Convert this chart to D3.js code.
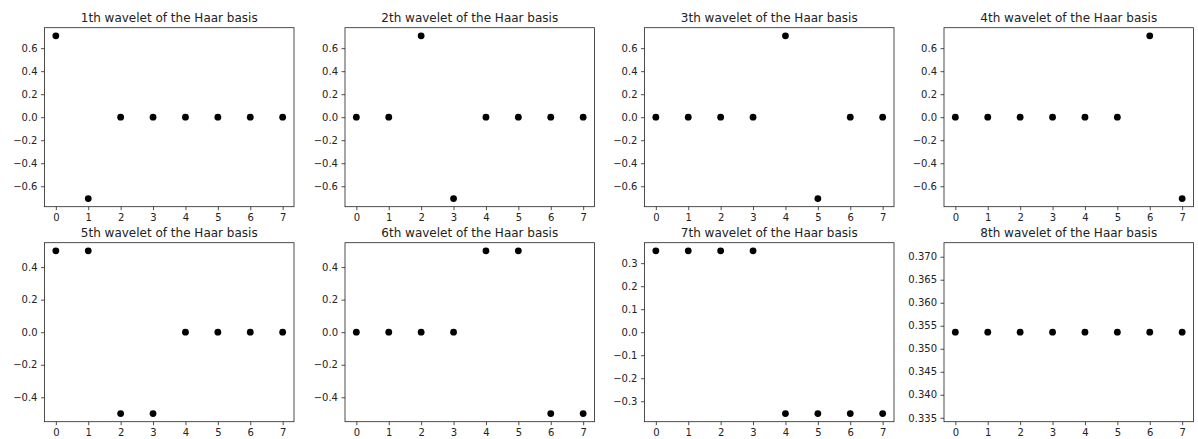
<!DOCTYPE html>
<html>
<head>
<meta charset="utf-8">
<script src="https://cdn.jsdelivr.net/npm/d3@7"></script>
<style>
  html, body { margin: 0; padding: 0; background: #fff; }
  svg { display: block; }
  text { font-family: "DejaVu Sans", sans-serif; fill: #222; }
</style>
</head>
<body>
<svg id="chart" width="1198" height="439"></svg>
<script>
// ---- data ----
const indices = [0, 1, 2, 3, 4, 5, 6, 7];
const titles = [
  "1th wavelet of the Haar basis", "2th wavelet of the Haar basis",
  "3th wavelet of the Haar basis", "4th wavelet of the Haar basis",
  "5th wavelet of the Haar basis", "6th wavelet of the Haar basis",
  "7th wavelet of the Haar basis", "8th wavelet of the Haar basis"
];
const wavelet1 = [0.7071, -0.7071, 0, 0, 0, 0, 0, 0];
const wavelet2 = [0, 0, 0.7071, -0.7071, 0, 0, 0, 0];
const wavelet3 = [0, 0, 0, 0, 0.7071, -0.7071, 0, 0];
const wavelet4 = [0, 0, 0, 0, 0, 0, 0.7071, -0.7071];
const wavelet5 = [0.5, 0.5, -0.5, -0.5, 0, 0, 0, 0];
const wavelet6 = [0, 0, 0, 0, 0.5, 0.5, -0.5, -0.5];
const wavelet7 = [0.3536, 0.3536, 0.3536, 0.3536, -0.3536, -0.3536, -0.3536, -0.3536];
const wavelet8 = [0.3536, 0.3536, 0.3536, 0.3536, 0.3536, 0.3536, 0.3536, 0.3536];
const series = [wavelet1, wavelet2, wavelet3, wavelet4, wavelet5, wavelet6, wavelet7, wavelet8];
const ticksA = [-0.6, -0.4, -0.2, 0.0, 0.2, 0.4, 0.6];
const ticksB = [-0.4, -0.2, 0.0, 0.2, 0.4];
const ticksC = [-0.3, -0.2, -0.1, 0.0, 0.1, 0.2, 0.3];
const ticksD = [0.335, 0.340, 0.345, 0.350, 0.355, 0.360, 0.365, 0.370];
const yTicks = [ticksA, ticksA, ticksA, ticksA, ticksB, ticksB, ticksC, ticksD];
const yFormats = [".1f", ".1f", ".1f", ".1f", ".1f", ".1f", ".1f", ".3f"];

// ---- layout ----
const svg = d3.select("#chart");
const colLeft = [44.5, 345, 644.5, 944];
const rowTop = [27.7, 242.7];
const pw = 249.5, ph = 179;

function fmtMinus(s) { return s.replace("-", "\u2212"); }

series.forEach((vals, i) => {
  const col = i % 4, row = Math.floor(i / 4);
  const g = svg.append("g").attr("transform", `translate(${colLeft[col]},${rowTop[row]})`);

  const x = d3.scaleLinear().domain([-0.35, 7.35]).range([0, pw]);
  let lo = d3.min(vals), hi = d3.max(vals);
  if (hi - lo < 1e-12) { const e = 0.05 * Math.abs(lo); lo -= e; hi += e; }
  const m = (hi - lo) * 0.05;
  const y = d3.scaleLinear().domain([lo - m, hi + m]).range([ph, 0]);

  const xAxis = d3.axisBottom(x).tickValues(indices).tickSize(3.5).tickPadding(3.5).tickFormat(d3.format("d"));
  const yAxis = d3.axisLeft(y).tickValues(yTicks[i]).tickSize(3.5).tickPadding(3.5)
    .tickFormat(d => fmtMinus(d3.format(yFormats[i])(d)));

  const gx = g.append("g").attr("transform", `translate(0,${ph})`).call(xAxis);
  const gy = g.append("g").call(yAxis);
  [gx, gy].forEach(a => {
    a.select(".domain").remove();
    a.selectAll(".tick line").attr("stroke", "#222").attr("stroke-width", 0.8);
    a.selectAll(".tick text").style("font-family", "'DejaVu Sans', sans-serif").style("font-size", "10px").attr("fill", "#222");
  });

  g.append("rect").attr("x", 0).attr("y", 0).attr("width", pw).attr("height", ph)
    .attr("fill", "none").attr("stroke", "#222").attr("stroke-width", 0.8);

  g.selectAll("circle").data(vals).enter().append("circle")
    .attr("cx", (d, k) => x(indices[k]))
    .attr("cy", d => y(d))
    .attr("r", 3.4)
    .attr("fill", "#000");

  g.append("text").attr("x", pw / 2).attr("y", -6)
    .attr("text-anchor", "middle").style("font-size", "12px")
    .text(titles[i]);
});
</script>
</body>
</html>
